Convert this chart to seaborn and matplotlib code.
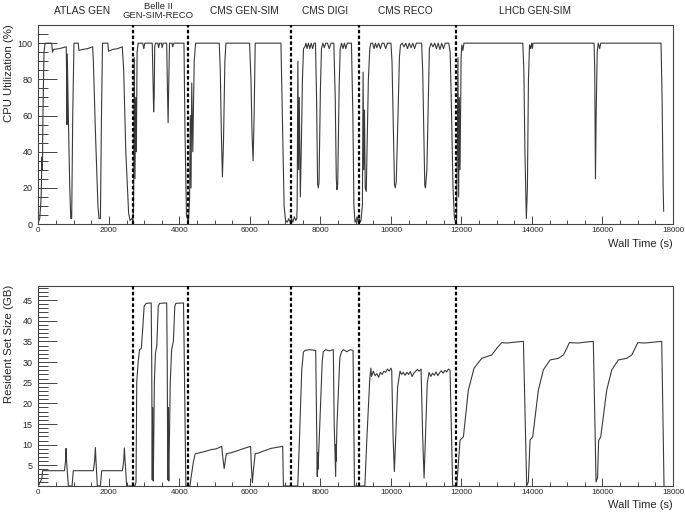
import numpy as np
import pandas as pd
import matplotlib
matplotlib.use('Agg')
import matplotlib.pyplot as plt
import seaborn as sns
from matplotlib.ticker import MultipleLocator, FixedLocator

# workflow names, boundaries (s) and label centres (s)
workflows = ['ATLAS GEN', 'Belle II\nGEN-SIM-RECO', 'CMS GEN-SIM', 'CMS DIGI', 'CMS RECO', 'LHCb GEN-SIM']
boundaries = [2680, 4240, 7160, 9080, 11840]
label_x = [1230, 3400, 5830, 8120, 10400, 14090]

# ---------------- CPU utilization (%) ----------------
atlas_cpu_t = [0, 40, 80, 100, 115, 130, 160, 190, 380, 400, 430, 600, 790, 800, 810, 820, 850, 890, 920, 945,
               975, 1010, 1130, 1150, 1250, 1400, 1540, 1560, 1620, 1690, 1720, 1760, 1790, 1820, 1970, 1990,
               2100, 2250, 2380, 2420, 2480, 2560, 2600, 2650, 2680]
atlas_cpu = [1, 3, 15, 37, 30, 60, 95, 100, 100, 95, 96.5, 97, 98, 84, 55, 94, 60, 20, 3, 3,
             60, 100, 100, 96, 96.5, 97, 98, 90, 50, 10, 3, 3, 60, 100, 100, 95.5,
             96.5, 97, 98, 85, 40, 6, 2, 3, 2]

belle_cpu_t = [2700, 2720, 2740, 2760, 2780, 2800, 2830, 2960, 2990, 3020, 3230, 3250, 3270, 3285, 3300,
               3320, 3390, 3410, 3440, 3490, 3510, 3540, 3640, 3660, 3680, 3700, 3720, 3790, 3810, 3840,
               4130, 4160, 4200, 4240]
belle_cpu = [10, 92, 25, 70, 40, 95, 100, 100, 97, 100, 100, 80, 62, 70, 98,
             100, 100, 97.5, 100, 100, 97.5, 100, 100, 75, 56, 80, 100, 100, 98, 100,
             100, 50, 5, 2]

cmsgen_cpu_t = [4260, 4290, 4310, 4330, 4350, 4380, 4420, 4460, 5130, 5160, 5190, 5220, 5250, 5290, 5320,
                5990, 6030, 6060, 6090, 6120, 6150, 6880, 6920, 6970, 7010, 7060, 7100, 7140, 7180, 7220,
                7260, 7300, 7330]
cmsgen_cpu = [2, 15, 60, 20, 78, 40, 90, 100, 100, 85, 50, 26, 45, 90, 100,
              100, 80, 50, 35, 60, 100, 100, 60, 10, 2, 1, 3, 1, 3, 1,
              4, 2, 3]

digi_cpu_t = [7340, 7360, 7380, 7400, 7430, 7460, 7490, 7520, 7560, 7590, 7620, 7660, 7700, 7740, 7780,
              7820, 7860, 7890, 7920, 7940, 7960, 8000, 8030, 8070, 8110, 8150, 8200, 8250, 8300, 8340,
              8380, 8420, 8450, 8470, 8490, 8530, 8560, 8600, 8640, 8680, 8720, 8760, 8800, 8840, 8880,
              8920, 8950, 8980, 9010, 9040, 9070, 9100, 9130]
digi_cpu = [10, 90, 30, 70, 15, 45, 80, 97, 98, 100, 97, 100, 97, 100, 97,
            100, 100, 70, 22, 20, 23, 75, 97, 100, 97.5, 100, 100, 97, 100, 100,
            100, 70, 25, 19, 22, 75, 97, 100, 97, 100, 97, 100, 100, 100, 100,
            60, 10, 1, 2, 4, 1, 3, 1]

reco_cpu_t = [9150, 9190, 9210, 9230, 9250, 9270, 9300, 9330, 9360, 9400, 9430, 9480, 9520, 9560, 9600,
              9650, 9700, 9750, 9800, 9850, 9900, 9950, 10000, 10030, 10070, 10100, 10120, 10150, 10200, 10240,
              10270, 10320, 10370, 10420, 10470, 10520, 10570, 10620, 10670, 10720, 10770, 10820, 10870, 10900, 10940,
              10960, 10980, 11020, 11060, 11090, 11140, 11190, 11240, 11290, 11340, 11390, 11440, 11490, 11540, 11590,
              11640, 11680, 11720, 11760, 11800, 11840]
reco_cpu = [2, 10, 84, 30, 63, 20, 18, 50, 80, 97, 100, 100, 97, 100, 97.5,
            100, 97, 100, 100, 97, 100, 100, 100, 90, 50, 22, 20, 23, 60, 92,
            99, 100, 98, 100, 97, 100, 97.5, 100, 97, 100, 100, 100, 100, 85, 40,
            21, 20, 30, 70, 97, 100, 98, 100, 97, 100, 96.5, 100, 97, 100, 100,
            100, 95, 60, 20, 3, 1]

lhcb_cpu_t = [11860, 11880, 11900, 11920, 11940, 11960, 11990, 12010, 12040, 12070, 12100, 13740, 13770, 13800,
              13840, 13870, 13900, 13930, 13960, 13990, 14010, 14030, 14060, 15760, 15780, 15800, 15820, 15850,
              15880, 15920, 15950, 15980, 17660, 17690, 17720, 17735]
lhcb_cpu = [2, 40, 92, 15, 70, 30, 92, 99, 96, 100, 100, 100, 85, 40,
            3, 20, 80, 99, 97, 100, 97, 100, 100, 100, 85, 25, 60, 95,
            100, 97, 100, 100, 100, 70, 20, 7]

# ---------------- Resident set size (GB) ----------------
atlas_rss_t = [0, 40, 100, 120, 740, 770, 786, 800, 851, 956, 990, 1560, 1595, 1617, 1635, 1673, 1759, 1797,
               2385, 2420, 2440, 2460, 2505, 2700]
atlas_rss = [0, 0.8, 1.8, 3.7, 3.7, 6, 9.1, 6, 0, 0, 3.7, 3.7, 6, 9.3, 6, 0, 0, 3.7,
             3.7, 6, 9.2, 6, 0, 0]

belle_rss_t = [2740, 2770, 2790, 2830, 2870, 2920, 2960, 3000, 3060, 3200, 3215, 3230, 3240, 3245, 3260,
               3290, 3320, 3360, 3400, 3440, 3640, 3655, 3670, 3680, 3685, 3700, 3740, 3780, 3830, 3870,
               3900, 4117, 4140, 4183]
belle_rss = [0, 1, 25, 30, 33, 33.3, 38, 43.5, 44.2, 44.3, 30, 1.5, 19, 7, 1.2,
             25, 32, 34, 43.5, 44.2, 44.3, 30, 1.5, 19, 7, 1.2, 25, 33, 35, 43.5,
             44.2, 44.3, 30, 0]

cmsgen_rss_t = [4300, 4330, 4400, 4450, 4550, 4700, 4900, 5050, 5200, 5230, 5270, 5300, 5330, 5450, 5600,
                5800, 6020, 6040, 6070, 6100, 6150, 6250, 6400, 6600, 6930, 6950, 7350]
cmsgen_rss = [0, 2, 6, 7.8, 8, 8.3, 8.8, 9, 9.6, 7, 4.2, 6, 7.8, 8, 8.4,
              9, 9.6, 5, 0.8, 4, 7.8, 8, 8.5, 9.1, 9.6, 0, 0]

digi_rss_t = [7357, 7400, 7470, 7517, 7560, 7700, 7866, 7890, 7910, 7920, 7930, 7960, 8050, 8080, 8150,
              8250, 8366, 8390, 8432, 8440, 8445, 8470, 8550, 8600, 8650, 8750, 8850, 8925, 8965, 9220]
digi_rss = [0, 10, 28, 32.4, 32.8, 33, 32.8, 15, 2.3, 8, 4, 10, 30, 32.5, 33,
            32.7, 33, 15, 2.3, 10, 6, 15, 31, 32.5, 33, 32.5, 33, 32.8, 0, 0]

reco_rss_t = [9260, 9320, 9400, 9430, 9450, 9500, 9550, 9600, 9650, 9700, 9750, 9800, 9850, 9900, 9950,
              10000, 10022, 10060, 10097, 10190, 10258, 10300, 10350, 10400, 10450, 10500, 10550, 10600, 10650, 10700,
              10750, 10800, 10854, 10900, 10940, 11030, 11080, 11130, 11180, 11230, 11280, 11330, 11380, 11430, 11480,
              11530, 11580, 11630, 11676, 11750, 11860]
reco_rss = [0, 12, 26, 28.5, 26.5, 27.8, 26.7, 27.2, 26.3, 27.5, 27.0, 27.8, 27.5, 28.3, 27.8,
            28.5, 28, 12, 3.5, 24, 27.8, 27, 27.5, 26.8, 27.5, 27, 27.7, 26.5, 27.3, 27.8,
            28.2, 27.8, 28.3, 12, 1.9, 25, 27.5, 26.5, 27.3, 26.8, 27.6, 26.7, 27.4, 27.9, 27.3,
            28, 27.6, 28.3, 28, 0, 0]

lhcb_rss_t = [11866, 11960, 12055, 12195, 12357, 12575, 12858, 13000, 13142, 13300, 13500, 13757, 13850,
              13897, 13945, 14021, 14181, 14322, 14512, 14748, 14890, 14986, 15060, 15300, 15500, 15740, 15817,
              15860, 15890, 15950, 16120, 16262, 16450, 16687, 16830, 16923, 17000, 17200, 17450, 17680, 17745]
lhcb_rss = [0, 11.1, 11.9, 23.2, 28.5, 30.9, 31.7, 33.3, 34.7, 34.6, 34.8, 35.0, 0,
            1, 11.1, 11.9, 23.2, 28.1, 30.5, 30.9, 31.7, 33.3, 34.7, 34.6, 34.8, 35.0, 1,
            2, 11, 11.9, 23.2, 28.1, 30.5, 30.9, 31.7, 33.3, 34.7, 34.6, 34.8, 35.0, 0]

cpu_df = pd.DataFrame({
    'time': np.concatenate([atlas_cpu_t, belle_cpu_t, cmsgen_cpu_t, digi_cpu_t, reco_cpu_t, lhcb_cpu_t]),
    'cpu': np.concatenate([atlas_cpu, belle_cpu, cmsgen_cpu, digi_cpu, reco_cpu, lhcb_cpu]),
})
rss_df = pd.DataFrame({
    'time': np.concatenate([atlas_rss_t, belle_rss_t, cmsgen_rss_t, digi_rss_t, reco_rss_t, lhcb_rss_t]),
    'rss': np.concatenate([atlas_rss, belle_rss, cmsgen_rss, digi_rss, reco_rss, lhcb_rss]),
})

sns.set_style('white')
plt.rcParams['font.family'] = ['Liberation Sans', 'DejaVu Sans']

fig = plt.figure(figsize=(6.85, 5.12), dpi=100)
ax1 = fig.add_axes([0.056, 0.5625, 0.9265, 0.3885])
ax2 = fig.add_axes([0.056, 0.0508, 0.9265, 0.3906])

frame_col = '#444444'
line_col = '#3a3a3a'

for ax in (ax1, ax2):
    for s in ax.spines.values():
        s.set_color(frame_col)
        s.set_linewidth(0.8)
    ax.set_xlim(0, 18000)
    ax.xaxis.set_major_locator(MultipleLocator(2000))
    ax.xaxis.set_minor_locator(MultipleLocator(500))
    ax.tick_params(axis='x', which='major', direction='in', length=5.5, width=0.7,
                   color=frame_col, labelsize=5.8, pad=2.5, bottom=True, top=False)
    ax.tick_params(axis='x', which='minor', direction='in', length=2.8, width=0.7,
                   color=frame_col, bottom=True, top=False)
    ax.tick_params(axis='y', which='major', direction='in', length=14, width=0.7,
                   color=frame_col, labelsize=6.5, pad=4, left=True, right=False)
    ax.tick_params(axis='y', which='minor', direction='in', length=7, width=0.7,
                   color=frame_col, left=True, right=False)
    for b in boundaries:
        ax.axvline(b, color='black', lw=1.6, ls=(0, (1.6, 1.0)), zorder=3)

# -------------------- CPU panel --------------------
sns.lineplot(data=cpu_df, x='time', y='cpu', ax=ax1, estimator=None, sort=False,
             color=line_col, lw=0.8)
ax1.set_ylim(0, 110)
ax1.yaxis.set_major_locator(FixedLocator([0, 20, 40, 60, 80, 100]))
ax1.yaxis.set_minor_locator(MultipleLocator(5))
ax1.set_ylabel('CPU Utilization (%)', fontsize=8.2)
ax1.yaxis.set_label_coords(-0.039, 0.76)
ax1.set_xlabel('Wall Time (s)', fontsize=8, ha='right', va='center')
ax1.xaxis.set_label_coords(1.0, -0.10)

trans = ax1.get_xaxis_transform()
for name, x in zip(workflows, label_x):
    fs = 6.8 if '\n' in name else 7.3
    ax1.text(x, 1.07, name, transform=trans, ha='center', va='center',
             fontsize=fs, linespacing=1.0)

# -------------------- RSS panel --------------------
sns.lineplot(data=rss_df, x='time', y='rss', ax=ax2, estimator=None, sort=False,
             color=line_col, lw=0.8)
ax2.set_ylim(0, 48.4)
ax2.yaxis.set_major_locator(FixedLocator([5, 10, 15, 20, 25, 30, 35, 40, 45]))
ax2.yaxis.set_minor_locator(MultipleLocator(1))
ax2.set_ylabel('Resident Set Size (GB)', fontsize=8.2)
ax2.yaxis.set_label_coords(-0.039, 0.71)
ax2.set_xlabel('Wall Time (s)', fontsize=8, ha='right', va='center')
ax2.xaxis.set_label_coords(1.0, -0.095)

fig.savefig('out.png', dpi=100)
